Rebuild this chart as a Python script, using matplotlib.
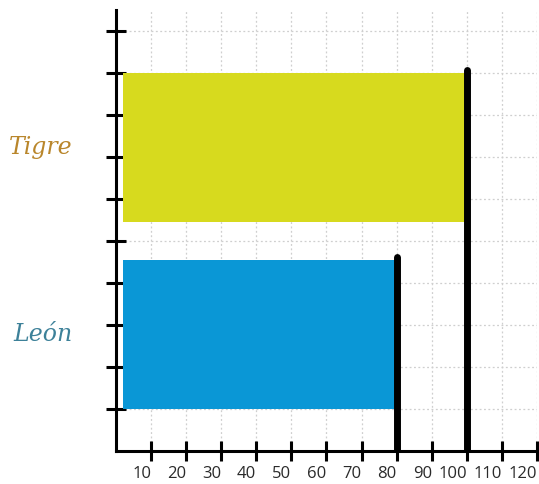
import matplotlib
matplotlib.use("Agg")
from matplotlib import pyplot as plt

# datos
categorias = ['León', 'Tigre']
valores = [80, 100]
colores = ['#0a97d6', '#d7da1e']
colores_texto = ['#3d8199', '#b9862b']
posiciones = [2.78, 7.22]
x_ticks = [10, 20, 30, 40, 50, 60, 70, 80, 90, 100, 110, 120]
y_ticks = [1, 2, 3, 4, 5, 6, 7, 8, 9, 10]

fig = plt.figure(figsize=(5.39, 4.84), dpi=100)
ax = fig.add_axes([0.2152, 0.0682, 0.7811, 0.9112])

ax.set_xlim(0, 120)
ax.set_ylim(0, 10.5)

# cuadrícula punteada
ax.set_xticks(x_ticks)
ax.set_yticks(y_ticks)
ax.grid(True, color='#cfcfcf', linestyle=(0, (1.5, 2)), linewidth=0.9)
ax.set_axisbelow(True)

# barras
inicio = 2
for y, v, c in zip(posiciones, valores, colores):
    ax.barh(y, v - inicio, left=inicio, height=3.55, color=c, zorder=2)
    ax.vlines(v, -0.1, y + 1.85, color='black', linewidth=5, zorder=3,
              capstyle='round')

# etiquetas de categoría
for y, nombre, c in zip(posiciones, categorias, colores_texto):
    ax.text(-12.5, y, nombre, color=c, fontsize=17, ha='right', va='center',
            family='DejaVu Serif', style='italic', clip_on=False)

ax.set_yticklabels([])
ax.set_xticklabels([str(t) for t in x_ticks], fontsize=12, color='#2a2a2a',
                   family='Open Sans')
for lbl in ax.get_xticklabels():
    lbl.set_horizontalalignment('right')

for s in ['top', 'right']:
    ax.spines[s].set_visible(False)
for s in ['left', 'bottom']:
    ax.spines[s].set_linewidth(2.2)
    ax.spines[s].set_color('black')

ax.tick_params(axis='both', direction='inout', length=15, width=2.2,
               color='black')
ax.tick_params(axis='x', pad=3)

plt.savefig('out.png', dpi=100)
